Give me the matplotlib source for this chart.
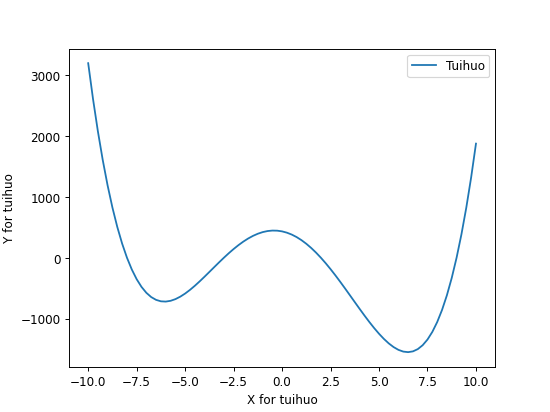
import matplotlib
matplotlib.use("Agg")
import matplotlib.pyplot as plt

x_vals = [-10.0, -9.75, -9.5, -9.25, -9.0, -8.75, -8.5, -8.25,
          -8.0, -7.75, -7.5, -7.25, -7.0, -6.75, -6.5, -6.25,
          -6.0, -5.75, -5.5, -5.25, -5.0, -4.75, -4.5, -4.25,
          -4.0, -3.75, -3.5, -3.25, -3.0, -2.75, -2.5, -2.25,
          -2.0, -1.75, -1.5, -1.25, -1.0, -0.75, -0.5, -0.25,
          0.0, 0.25, 0.5, 0.75, 1.0, 1.25, 1.5, 1.75,
          2.0, 2.25, 2.5, 2.75, 3.0, 3.25, 3.5, 3.75,
          4.0, 4.25, 4.5, 4.75, 5.0, 5.25, 5.5, 5.75,
          6.0, 6.25, 6.5, 6.75, 7.0, 7.25, 7.5, 7.75,
          8.0, 8.25, 8.5, 8.75, 9.0, 9.25, 9.5, 9.75, 10.0]
y_vals = [3192, 2602.4, 2074.3, 1604.0, 1188, 822.9, 505.3, 232.1,
          0, -193.9, -352.7, -479.1, -576, -646.0, -691.7, -715.6,
          -720, -707.3, -679.7, -639.2, -588, -527.9, -460.7, -388.2,
          -312, -233.7, -154.7, -76.4, 0, 73.3, 142.3, 206.2,
          264, 314.9, 358.3, 393.5, 420, 437.4, 445.3, 443.6,
          432, 410.6, 379.3, 338.4, 288, 228.5, 160.3, 83.9,
          0, -90.8, -187.7, -289.7, -396, -505.4, -616.7, -728.7,
          -840, -949.2, -1054.7, -1154.9, -1248, -1332.2, -1405.7, -1466.3,
          -1512, -1540.6, -1549.7, -1537.0, -1500, -1436.1, -1342.7, -1216.9,
          -1056, -856.9, -616.7, -332.1, 0, 383.0, 820.3, 1315.4, 1872]
series_label = "Tuihuo"
x_label = "X for tuihuo"
y_label = "Y for tuihuo"

fig, ax = plt.subplots(figsize=(6.4, 4.8), dpi=86)
ax.plot(x_vals, y_vals, color="#1f77b4", label=series_label)
ax.set_xlabel(x_label)
ax.set_ylabel(y_label)
ax.legend(loc="upper right")
fig.savefig("out.png", dpi=86)
